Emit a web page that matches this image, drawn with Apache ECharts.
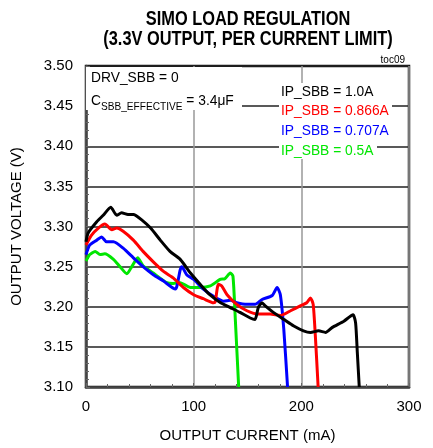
<!DOCTYPE html>
<html>
<head>
<meta charset="utf-8">
<script src="https://cdn.jsdelivr.net/npm/echarts@6/dist/echarts.min.js"></script>
<style>
  html, body { margin: 0; padding: 0; background: #fff; }
  #chart { width: 433px; height: 448px; }
</style>
</head>
<body>
<div id="chart"></div>
<script>
// output current (mA), output voltage (V) per current limit setting
const ip10 = [[0,3.281],[2,3.292],[10,3.306],[16,3.314],[23,3.324],[28.5,3.314],[33,3.317],[39,3.315],[44,3.315],[52,3.308],[60,3.298],[69,3.283],[78,3.269],[87.5,3.259],[97,3.242],[106,3.228],[115,3.215],[125,3.205],[134,3.199],[143,3.193],[152.5,3.186],[157,3.184],[160,3.199],[163.5,3.205],[166.5,3.201],[174,3.193],[184,3.184],[193,3.176],[202,3.170],[208.5,3.168],[216,3.170],[222.5,3.168],[228.5,3.174],[239.5,3.182],[248,3.190],[250.4,3.180],[252,3.143],[253.8,3.10]];
const ip866 = [[0,3.277],[5,3.289],[11.5,3.298],[17.5,3.303],[24,3.296],[28.5,3.298],[34.5,3.294],[44,3.283],[53,3.269],[62.5,3.256],[72,3.244],[81,3.236],[90.5,3.224],[100,3.215],[109,3.210],[118.5,3.205],[120,3.206],[123,3.228],[126,3.226],[131,3.215],[140,3.203],[149.5,3.195],[159,3.191],[171,3.191],[180.5,3.189],[190,3.195],[199,3.201],[205,3.205],[208.5,3.211],[211,3.203],[213,3.164],[215.6,3.10]];
const ip707 = [[0,3.265],[3.5,3.277],[10,3.283],[14.5,3.287],[19,3.281],[25.5,3.281],[34.5,3.273],[44,3.261],[53,3.250],[62.5,3.240],[72,3.232],[83,3.222],[84.5,3.226],[87.5,3.246],[89,3.250],[93.5,3.240],[100,3.234],[109,3.222],[118.5,3.213],[128,3.207],[134,3.208],[140,3.205],[149.5,3.203],[157,3.203],[163.5,3.209],[173,3.214],[177.5,3.224],[180.5,3.215],[183.7,3.172],[187.2,3.10]];
const ip05 = [[0,3.257],[3.5,3.265],[8.5,3.269],[13,3.265],[17.5,3.266],[25.5,3.259],[31.5,3.250],[38,3.241],[42.5,3.250],[48,3.261],[53,3.251],[62.5,3.242],[75,3.230],[81,3.229],[87.5,3.230],[97,3.224],[106,3.224],[115.5,3.226],[124.5,3.234],[129,3.235],[134,3.242],[136.5,3.238],[138.7,3.184],[141.8,3.10]];

const seriesNames = ['IP_SBB = 1.0A', 'IP_SBB = 0.866A', 'IP_SBB = 0.707A', 'IP_SBB = 0.5A'];
const seriesData = [ip10, ip866, ip707, ip05];
const colors = ['#000000', '#ff0000', '#0000ff', '#00e600'];

const font = 'Arial, "Liberation Sans", sans-serif';
const chart = echarts.init(document.getElementById('chart'), null, { renderer: 'canvas' });

// white boxes hide the grid behind the notes, as in the original
const boxes = [
  [86, 67, 156, 43],
  [279, 83, 100, 19],
  [279, 102, 113, 19],
  [279, 121, 113, 19],
  [279, 140, 98, 19]
].map(b => ({
  type: 'rect', z: 100, silent: true,
  shape: { x: b[0], y: b[1], width: b[2], height: b[3] },
  style: { fill: '#fff' }
}));

const legendTexts = seriesNames.map((name, i) => ({
  type: 'text', z: 101,
  x: 281, y: 91.5 + i * 19.7, scaleX: 0.92,
  style: { text: name, fill: colors[i], font: '15px ' + font, verticalAlign: 'middle', align: 'left' }
}));

chart.setOption({
  animation: false,
  backgroundColor: '#fff',
  title: {
    text: 'toc09',
    right: 23,
    top: 50,
    textStyle: { fontFamily: font, fontWeight: 'normal', fontSize: 10, color: '#000' }
  },
  grid: {
    left: 86, right: 24, top: 66, bottom: 60,
    show: true,
    borderColor: '#111',
    borderWidth: 2.5,
    backgroundColor: '#fff'
  },
  xAxis: {
    type: 'value',
    min: 0, max: 300, interval: 100,
    name: 'OUTPUT CURRENT (mA)',
    nameLocation: 'middle',
    nameGap: 41,
    nameTextStyle: { fontFamily: font, fontSize: 15, color: '#000' },
    axisLine: { show: true, lineStyle: { color: '#444', width: 2.5 } },
    axisTick: { show: true, inside: true, length: 4, lineStyle: { color: '#666' } },
    minorTick: { show: true, splitNumber: 5, length: 3, lineStyle: { color: '#666' } },
    axisLabel: { fontFamily: font, fontSize: 15, color: '#000', margin: 12 },
    splitLine: { show: true, lineStyle: { color: '#999', width: 1.5 } }
  },
  yAxis: {
    type: 'value',
    min: 3.10, max: 3.50, interval: 0.05,
    name: 'OUTPUT VOLTAGE (V)',
    nameLocation: 'middle',
    nameGap: 62,
    nameTextStyle: { fontFamily: font, fontSize: 15, color: '#000' },
    axisLine: { show: true, lineStyle: { color: '#444', width: 2.5 } },
    axisTick: { show: true, inside: true, length: 4, lineStyle: { color: '#666' } },
    minorTick: { show: true, splitNumber: 5, length: 3, lineStyle: { color: '#666' } },
    axisLabel: { fontFamily: font, fontSize: 15, color: '#000', margin: 13, formatter: v => v.toFixed(2) },
    splitLine: { show: true, lineStyle: { color: '#222', width: 1.5 } }
  },
  graphic: boxes.concat([
    {
      type: 'text', z: 101, x: 248, y: 19, scaleX: 0.78,
      style: { text: 'SIMO LOAD REGULATION', fill: '#000', font: 'bold 21px ' + font, align: 'center', verticalAlign: 'middle' }
    },
    {
      type: 'text', z: 101, x: 248, y: 39, scaleX: 0.78,
      style: { text: '(3.3V OUTPUT, PER CURRENT LIMIT)', fill: '#000', font: 'bold 21px ' + font, align: 'center', verticalAlign: 'middle' }
    },
    {
      type: 'text', z: 101, x: 91, y: 78, scaleX: 0.92,
      style: { text: 'DRV_SBB = 0', fill: '#000', font: '15px ' + font, verticalAlign: 'middle' }
    },
    {
      type: 'text', z: 101, x: 91, y: 90, scaleX: 0.92,
      style: {
        text: '{b|C}{s|SBB_EFFECTIVE}{b| = 3.4μF}',
        rich: {
          b: { fontFamily: font, fontSize: 15, fill: '#000', verticalAlign: 'bottom', lineHeight: 18 },
          s: { fontFamily: font, fontSize: 11, fill: '#000', verticalAlign: 'bottom', lineHeight: 14, padding: [0, 0, -4, 0] }
        }
      }
    }
  ]).concat(legendTexts),
  series: seriesData.map((d, i) => ({
    name: seriesNames[i],
    type: 'line',
    data: d,
    showSymbol: false,
    smooth: 0.2,
    lineStyle: { color: colors[i], width: 3 },
    z: 10 - i
  }))
});
</script>
</body>
</html>
